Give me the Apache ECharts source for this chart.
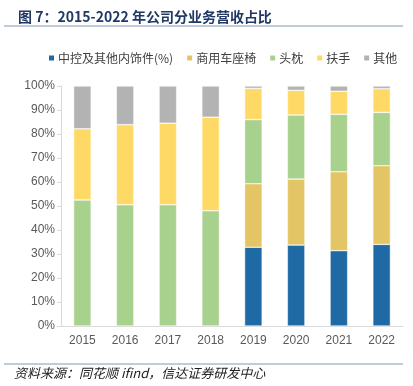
<!DOCTYPE html>
<html><head><meta charset="utf-8">
<script src="https://cdn.jsdelivr.net/npm/echarts@6/dist/echarts.min.js"></script>
<style>html,body{margin:0;padding:0;background:#fff}#c{width:413px;height:386px}</style>
</head><body><div id="c"></div>
<script>
const categories = ['2015','2016','2017','2018','2019','2020','2021','2022'];
const seriesNames = ['中控及其他内饰件(%)','商用车座椅','头枕','扶手','其他'];
const zhongkong = [null,null,null,null,32.8,33.7,31.4,34.0];
const shangyong = [null,null,null,null,26.5,27.5,32.9,32.8];
const touzhen = [52.5,50.5,50.5,48.0,26.7,26.7,23.9,22.2];
const fushou = [29.7,33.4,34.0,39.0,13.0,10.3,9.6,9.9];
const qita = [17.8,16.1,15.5,13.0,1.0,1.8,2.2,1.1];
const yTicks = [0,10,20,30,40,50,60,70,80,90,100];
const colors = ['#1f6aa5','#e3c565','#a9d18e','#ffd966','#b3b3b3'];
const allData = [zhongkong, shangyong, touzhen, fushou, qita];

const chart = echarts.init(document.getElementById('c'));
const font = '"Noto Sans CJK SC", "Noto Sans", sans-serif';
chart.setOption({
  animation:false,
  color: colors,
  title:{text:'图 7：2015-2022 年公司分业务营收占比', left:13, top:5,
    textStyle:{fontFamily:font, fontSize:14, fontWeight:'bold', color:'#1f3864'}},
  graphic:[
    {type:'line', shape:{x1:4,y1:26,x2:403,y2:26}, style:{stroke:'#8497b0', lineWidth:1}},
    {type:'line', shape:{x1:4,y1:364,x2:403,y2:364}, style:{stroke:'#8497b0', lineWidth:1}},
    {type:'text', left:14, top:367, style:{text:'资料来源：同花顺 ifind，信达证券研发中心', font:'italic 13px "Noto Sans CJK SC", sans-serif', fill:'#222'}}
  ],
  legend:{top:47, left:42, itemWidth:7, itemHeight:7, itemGap:12, icon:'rect',
    textStyle:{fontFamily:font, fontSize:12, color:'#404040', padding:[0,0,0,-2]},
    data: seriesNames},
  grid:{left:61, right:10, top:86, bottom:60},
  xAxis:{type:'category', data:categories,
    axisLine:{lineStyle:{color:'#d9d9d9'}}, axisTick:{show:false},
    axisLabel:{fontFamily:'"Liberation Sans", Arial, sans-serif', fontSize:12, color:'#595959', margin:9}},
  yAxis:{type:'value', min:0, max:100, interval:10,
    axisLine:{show:true, lineStyle:{color:'#d9d9d9'}},
    axisTick:{show:true, length:4, lineStyle:{color:'#d9d9d9'}},
    splitLine:{show:false},
    axisLabel:{fontFamily:'"Liberation Sans", Arial, sans-serif', fontSize:12, color:'#595959', margin:6,
      formatter: v => yTicks.includes(v) ? v + '%' : ''}},
  series: seriesNames.map((n,i)=>({
    name:n, type:'bar', stack:'total', barWidth:'41%', data:allData[i],
    itemStyle:{color:colors[i], borderColor:'#fff', borderWidth:0.5}
  }))
});
</script></body></html>
